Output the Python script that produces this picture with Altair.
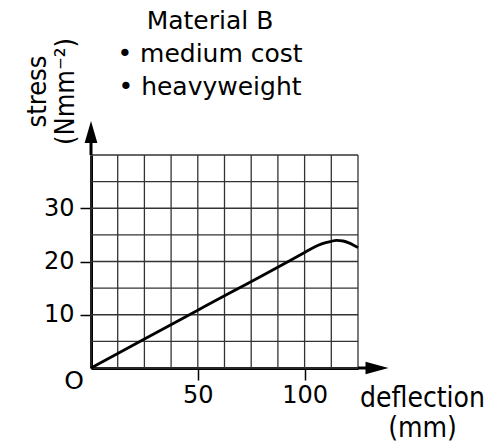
import altair as alt
import pandas as pd

# ---- data ----
deflection_mm = [0, 50, 100, 104, 108, 112, 115, 118, 121, 123, 125]
stress_nmm2 = [0, 10.85, 21.7, 22.6, 23.3, 23.75, 23.95, 23.85, 23.45, 23.05, 22.6]

grid_x = [0, 12.5, 25, 37.5, 50, 62.5, 75, 87.5, 100, 112.5, 125]
grid_y = [0, 5, 10, 15, 20, 25, 30, 35, 40]
x_ticks = [50, 100]
y_ticks = [10, 20, 30]
header_lines = ["Material B", "• medium cost", "• heavyweight"]
x_title = ["deflection", "(mm)"]
y_title = ["stress", "(Nmm⁻²)"]
origin_label = ["O"]

FONT = "DejaVu Sans"
FONT_C = "DejaVu Sans Condensed"
W, H = 267, 213

xs = alt.Scale(domain=[0, 125], nice=False, zero=False)
ys = alt.Scale(domain=[0, 40], nice=False, zero=False)

x_axis = alt.Axis(
    values=x_ticks, grid=False, domain=True, domainColor="black", domainWidth=3,
    ticks=True, tickSize=12, tickColor="black", tickWidth=1.5,
    labelFont=FONT, labelFontSize=24, labelColor="black", labelPadding=3,
    title=x_title, titleFont=FONT_C, titleFontSize=28, titleFontWeight="normal",
    titleColor="black", titleAlign="center", titleBaseline="alphabetic",
    titleAngle=0, titleX=331, titleY=38, titleLineHeight=30,
)
y_axis = alt.Axis(
    values=y_ticks, grid=False, domain=True, domainColor="black", domainWidth=3,
    ticks=True, tickSize=11, tickColor="black", tickWidth=1.5,
    labelFont=FONT, labelFontSize=24, labelColor="black", labelPadding=6,
    title=y_title, titleFont=FONT_C, titleFontSize=27, titleFontWeight="normal",
    titleColor="black", titleAlign="center", titleBaseline="alphabetic",
    titleAngle=270, titleX=-46, titleY=-64, titleLineHeight=28,
)

grid_v = alt.Chart(pd.DataFrame({"gx": grid_x})).mark_rule(
    color="#333333", strokeWidth=1.3
).encode(x=alt.X("gx:Q", scale=xs, axis=x_axis))

grid_h = alt.Chart(pd.DataFrame({"gy": grid_y})).mark_rule(
    color="#333333", strokeWidth=1.3
).encode(y=alt.Y("gy:Q", scale=ys, axis=y_axis))

curve = alt.Chart(pd.DataFrame({"deflection": deflection_mm, "stress": stress_nmm2})).mark_line(
    color="black", strokeWidth=2.8, interpolate="monotone"
).encode(
    x=alt.X("deflection:Q", scale=xs, axis=x_axis),
    y=alt.Y("stress:Q", scale=ys, axis=y_axis),
)

origin = alt.Chart(pd.DataFrame({"deflection": [0], "stress": [0], "lab": origin_label})).mark_text(
    font=FONT, fontSize=25, color="black", dx=-17, dy=13, align="center", baseline="middle"
).encode(
    x=alt.X("deflection:Q", scale=xs, axis=x_axis),
    y=alt.Y("stress:Q", scale=ys, axis=y_axis),
    text="lab:N",
)

one = pd.DataFrame({"k": [0]})

y_ext = alt.Chart(one).mark_rule(color="black", strokeWidth=3).encode(
    x=alt.value(0), y=alt.value(0), y2=alt.value(-14)
)
x_ext = alt.Chart(one).mark_rule(color="black", strokeWidth=3).encode(
    x=alt.value(W), x2=alt.value(W + 9), y=alt.value(H)
)
y_arrow = alt.Chart(one).mark_point(
    shape="M0,-1L0.58,1L-0.58,1Z", size=484, filled=True, color="black", opacity=1, strokeWidth=0
).encode(x=alt.value(0), y=alt.value(-23))
x_arrow = alt.Chart(one).mark_point(
    shape="M1,0L-1,0.55L-1,-0.55Z", size=529, filled=True, color="black", opacity=1, strokeWidth=0
).encode(x=alt.value(286), y=alt.value(H))

header = alt.Chart(pd.DataFrame({"label": ["\n".join(header_lines)]})).mark_text(
    font=FONT, fontSize=25, color="black", align="center", baseline="alphabetic",
    lineBreak="\n", lineHeight=33,
).encode(x=alt.value(119), y=alt.value(-126), text="label:N")

chart = alt.layer(
    grid_v, grid_h, curve, origin, y_ext, x_ext, y_arrow, x_arrow, header
).properties(
    width=W, height=H, autosize="none",
    padding={"left": 83, "top": 147, "right": 127, "bottom": 76},
    background="white",
).configure_view(stroke=None)

chart.save("out.html", embed_options={"renderer": "svg", "actions": False})
